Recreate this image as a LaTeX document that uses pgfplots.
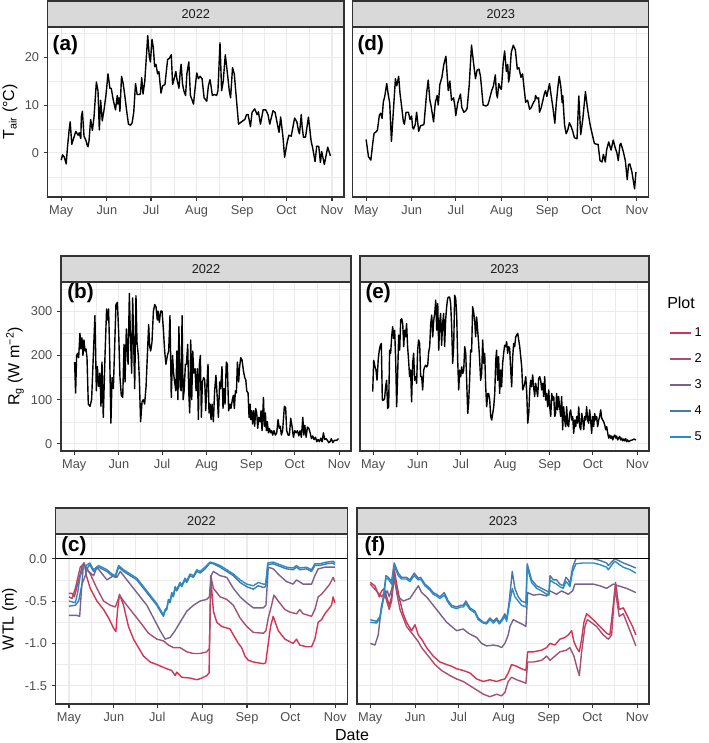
\documentclass[border=0pt]{standalone}
\usepackage{fontspec}
\setmainfont{Liberation Sans}
\usepackage{pgfplots}
\pgfplotsset{compat=1.18}
\definecolor{gridc}{HTML}{EBEBEB}
\definecolor{borderc}{HTML}{333333}
\definecolor{stripc}{HTML}{D9D9D9}
\definecolor{tickc}{HTML}{4D4D4D}
\definecolor{stript}{HTML}{1A1A1A}
\definecolor{plotone}{RGB}{214,50,82}
\definecolor{plottwo}{RGB}{168,78,112}
\definecolor{plotthree}{RGB}{118,98,140}
\definecolor{plotfour}{RGB}{70,120,170}
\definecolor{plotfive}{RGB}{40,140,200}
\newcommand{\tickfont}{\fontsize{9.6}{11}\selectfont}
\newcommand{\titlefont}{\fontsize{12}{14}\selectfont}
\newcommand{\tagfont}{\fontsize{15.5}{18}\selectfont\bfseries}
\pgfplotsset{
  panel/.style={
    scale only axis, anchor=south west,
    xmin=-9.15, xmax=192.15,
    xtick={0,31,61,92,123,153,184},
    xticklabels={May,Jun,Jul,Aug,Sep,Oct,Nov},
    minor xtick={15.5,46,76.5,107.5,138,168.5},
    tick pos=left, tick align=outside,
    major tick length=3pt, minor tick length=0pt,
    grid=both,
    major grid style={draw=gridc, line width=0.8pt},
    minor grid style={draw=gridc, line width=0.4pt},
    axis line style={draw=borderc, line width=0.8pt},
    major tick style={draw=borderc, line width=0.8pt},
    ticklabel style={font=\tickfont, text=tickc},
    every axis plot/.append style={line width=1.05pt, line join=round},
  },
}
\tikzset{tag/.style={anchor=north west, inner sep=0pt, font=\tagfont}}
\newcommand{\strip}[2]{%
  \draw[draw=borderc, fill=stripc, line width=0.8pt] (#1.north west) rectangle ([yshift=19.5pt]#1.north east);
  \node[font=\tickfont, text=stript] at ([yshift=9.75pt]#1.north) {#2};
}
\begin{document}
\begin{tikzpicture}
\path[use as bounding box] (0,0) rectangle (531.75pt,557.25pt);

% (a) Tair 2022
\begin{axis}[panel, name=a, at={(35.8pt,409.5pt)}, width=222.2pt, height=127.5pt,
  ymin=-9.2, ymax=26.3, ytick={0,10,20}, yticklabels={0,10,20}, minor ytick={-5,5,15,25},
  ylabel={T\textsubscript{air} (°C)}, ylabel style={at={(axis description cs:-0.127,0.5)}, anchor=center, font=\titlefont}]
\addplot[black] coordinates {
(0,-1.5) (0.9,-0.4) (2,-0.8) (3.4,-2.3) (4.3,1.3) (5.4,4.8) (6.1,6.5) (7.2,1.8) (9.9,4.5) (11.5,3.7)
(12.2,4.2) (13.3,3.0) (13.7,7.5) (14.4,8.7) (15.5,3.5) (16.7,2.7) (17.8,1.5) (18.2,1.3) (18.9,2.5) (20,7.0)
(21.2,4.7) (22.3,7.5) (23.9,14.8) (25,13) (25.9,4.8) (26.8,11) (27.9,6.7) (29.1,9) (30.4,12) (31.8,16.5)
(33.1,13.5) (34,13.5) (35.4,11) (36.9,9) (38.1,12) (38.5,10.2) (39.2,11.5) (39.9,8.7) (41,16) (42.1,14.5)
(43,12.5) (44.4,9) (45.7,6) (47.1,5.8) (48.2,6.3) (49.3,8.5) (50.5,14.5) (51.6,12.2) (52.9,12.2) (53.8,12.3)
(54.7,15.7) (55.6,12.3) (56.8,15) (58.8,24.5) (59.9,20) (60.6,19) (61.7,23.7) (62.6,22) (63.5,18) (64.4,18.5)
(65.5,16.5) (66.4,17) (67.8,12.5) (68.9,14) (70.5,14.3) (72.3,19.5) (73.6,19.8) (74.8,20.5) (75.7,14.3) (76.8,15.5)
(77.9,17) (78.6,15.5) (80,13.5) (80.9,17) (81.5,18.5) (82.4,14.5) (83.3,13) (84.5,12) (85.4,16.5) (86.7,19)
(87.8,12) (89,11) (89.9,10.2) (90.8,13) (92.1,16.7) (93.2,15.5) (94.4,16) (95.7,15.5) (97.1,11.5) (98.9,10.8)
(100,14) (101.1,15.3) (101.8,14) (102.7,12) (104.1,12.2) (105.6,12) (106.5,13) (107.9,23) (109,13) (110.1,15)
(111.5,20.5) (112.8,17) (114.2,13) (115.1,11.5) (116.4,17.8) (117.6,16.5) (120.5,6) (122.5,6.5) (124.8,7) (125.9,8)
(127,8) (128.6,5.5) (129.7,8.5) (131.5,9.2) (133.1,8) (134,8.6) (135.4,6) (137.2,9) (139,9) (140.5,8)
(141.7,6) (143.9,8.8) (145.3,8.5) (148,4.3) (149.1,7.5) (150.7,3.3) (151.8,-0.9) (153.4,2) (154.7,3.7) (156.3,3.5)
(158.6,7.3) (160.1,6.5) (161.3,4.5) (161.9,4) (163.1,8) (163.7,5.5) (164.6,3.3) (166,3.3) (168,7.5) (169.8,2.5)
(170.9,1) (172.5,-1.8) (173.6,1.4) (175,1.4) (176.1,-2) (177,0.3) (178.8,-2.4) (181.1,1.2) (182.9,-0.6)
};
\node[tag, xshift=3.5pt, yshift=-6pt] at (rel axis cs:0,1) {(a)};
\end{axis}

% (d) Tair 2023
\begin{axis}[panel, name=d, at={(264.5pt,409.5pt)}, width=222.2pt, height=127.5pt,
  ymin=-9.2, ymax=26.3, ytick={0,10,20}, yticklabels={}, minor ytick={-5,5,15,25}, ytick style={draw=none}]
\addplot[black] coordinates {
(0,2.8) (1.6,-0.8) (3.2,-1.5) (4.5,2) (5.4,4.1) (6.8,4.4) (7.7,4.8) (9,7.9) (9.9,8.3) (10.8,7.2)
(11.7,10.7) (12.6,11.7) (14,14.5) (15.1,12) (16,10.5) (17.2,2.4) (19.9,15.5) (20.8,14) (22.1,16) (23,12.5)
(24.2,9.5) (25.3,6.5) (26,6.0) (27.1,8.5) (28.7,8.5) (29.8,7) (30.9,7.7) (31.6,5.3) (32.3,5) (33.4,6)
(34.3,8.5) (35.7,4.5) (37,5.7) (38.4,5.8) (39.3,6) (41.1,12.5) (42.2,15.2) (43.3,11) (44,10) (44.9,8.3)
(45.8,6.5) (47,10.5) (48.3,12) (49,10) (50.1,14.3) (51.5,15.8) (52.8,18.5) (54.2,20.2) (55.1,16) (55.8,13)
(56.9,15) (58,11) (59.4,11.5) (60.3,9.8) (60.9,7.8) (62.3,10.5) (64.1,12.3) (65,9.5) (66.4,8.5) (67.7,8.8)
(68.6,9.3) (70,14) (71.6,22.5) (73.1,18.5) (74.3,15.5) (75.4,17.3) (76.7,17.5) (77.7,16) (79.5,10) (81.3,9.8)
(82.6,10) (83.5,10.8) (85.1,12.8) (86.5,14) (87.8,16.3) (88.5,12.5) (89.2,11.5) (90.1,14.5) (91.2,13.5) (91.9,13.3)
(93.2,19) (94.1,21.3) (95.3,17) (96.2,18.5) (96.8,14.8) (97.5,16) (98.6,21) (100,22.5) (101.4,21.5) (102.7,17.5)
(103.8,17.8) (105.2,15.8) (106.3,16.5) (107.4,13.3) (108.4,10.6) (109.7,11) (111.1,9.1) (112.2,9.5) (113.8,10.6) (114.7,11)
(115.1,12) (116.3,11.3) (117.2,11.5) (117.8,8.5) (119,9.5) (120.1,11) (121.2,12.5) (121.9,13) (122.8,11.8) (124.6,14.5)
(125.7,12) (126.9,9.5) (128.2,6.2) (129.1,10) (130.2,13.5) (131.2,16) (132.3,13.8) (133.2,10.5) (133.6,12) (134.8,5.9)
(135.9,4) (137,4.8) (138.1,6.3) (139.3,5.5) (140.4,4.5) (141.5,3.2) (142.7,3) (143.3,3.0) (144.5,11.9) (145.8,3.8)
(147.2,7) (149,12.8) (150.3,9.5) (152.1,6) (153.9,3.5) (155.1,2) (156.7,1.8) (157.6,1.8) (158.9,-1.6) (160.3,-1.9)
(161.2,-0.3) (162.5,-1.9) (163.4,0.6) (164.8,2.3) (166.4,0.6) (167.9,2.7) (169.1,1.2) (170.4,0) (171.3,-1.6) (172.5,1.8)
(173.1,2) (174.7,0.3) (176.1,-1.6) (177.4,-5.6) (178.3,-2.4) (179.2,-2.3) (180.6,-4) (182.4,-7.5) (183.3,-4)
};
\node[tag, xshift=3.5pt, yshift=-6pt] at (rel axis cs:0,1) {(d)};
\end{axis}

% (b) Rg 2022
\begin{axis}[panel, name=b, at={(45.75pt,219pt)}, width=217.5pt, height=126.75pt,
  ymin=-16, ymax=366, ytick={0,100,200,300}, yticklabels={0,100,200,300}, minor ytick={50,150,250,350},
  ylabel={R\textsubscript{g} (W m\textsuperscript{−2})}, ylabel style={at={(axis description cs:-0.1586,0.5)}, anchor=center, font=\titlefont}]
\addplot[black] coordinates {
(0.3,185) (1.0,115) (1.7,200) (2.4,205) (3.1,195) (4.0,250) (4.7,215) (5.4,240) (6.1,200) (6.8,235)
(7.5,210) (8.2,215) (8.9,195) (9.8,90) (11.0,85) (12.1,100) (13.3,200) (14.4,290) (15.4,120) (16.1,175)
(17.0,130) (17.9,160) (18.6,85) (19.3,185) (20.2,60) (21.4,200) (22.5,305) (23.3,280) (23.9,305) (24.6,210)
(25.5,47) (26.3,150) (27.2,125) (28.1,220) (29.0,315) (30.0,320) (30.9,250) (31.8,150) (32.7,110) (33.7,105)
(34.6,225) (35.3,140) (36.2,260) (37.4,180) (38.3,340) (39.0,250) (39.9,160) (40.6,330) (41.3,230) (42.0,125)
(42.9,335) (43.6,230) (44.5,200) (45.2,150) (46.1,50) (47.1,95) (48.0,100) (48.9,90) (49.9,130) (50.8,200)
(51.7,270) (52.4,220) (53.1,210) (54.0,230) (55.0,300) (55.9,315) (56.8,310) (57.7,280) (58.2,300) (59.1,275)
(60.0,300) (61.0,300) (61.9,260) (62.8,210) (63.7,180) (64.7,200) (65.6,210) (66.5,290) (67.4,105) (68.3,200)
(69.0,160) (69.7,140) (70.6,120) (71.3,210) (72.0,100) (72.7,265) (73.5,130) (74.2,120) (74.9,290) (75.6,100)
(76.3,120) (77.2,180) (77.9,180) (78.8,225) (79.5,120) (80.2,70) (80.9,235) (81.6,100) (82.3,210) (83.0,160)
(83.9,170) (84.6,120) (85.5,170) (86.2,55) (86.9,180) (87.6,200) (88.3,60) (89.0,140) (89.9,150) (90.6,145)
(91.3,75) (92.0,125) (92.9,180) (93.6,70) (94.3,90) (95.0,55) (95.7,90) (96.6,50) (97.5,120) (98.4,155)
(99.4,100) (100.1,60) (101.0,140) (101.7,125) (102.6,175) (103.3,80) (104.0,125) (104.7,90) (105.6,185) (106.3,180)
(107.2,75) (108.2,90) (108.8,80) (109.8,100) (110.5,110) (111.2,80) (111.9,120) (112.6,115) (113.3,185) (114.2,140)
(114.7,170) (115.6,195) (116.5,190) (117.5,165) (118.4,150) (119.1,145) (119.8,120) (120.7,115) (121.4,60) (122.1,90)
(122.5,55) (123.2,75) (123.9,45) (124.6,75) (125.3,40) (126.0,80) (126.7,70) (127.4,35) (128.1,60) (129.0,50)
(129.7,75) (130.4,30) (131.4,105) (132.0,40) (132.7,70) (133.4,30) (134.1,50) (134.8,25) (135.5,35) (136.4,25)
(137.1,30) (137.8,20) (138.7,30) (139.6,20) (140.6,25) (141.5,55) (142.4,35) (143.1,40) (143.8,20) (144.7,30)
(145.9,85) (146.8,82) (147.5,30) (148.5,20) (149.4,20) (150.3,58) (151.2,40) (152.2,15) (153.1,30) (154.0,25)
(155.0,30) (155.9,18) (156.8,30) (157.7,15) (158.7,60) (159.4,20) (160.1,42) (161.0,15) (161.9,38) (162.9,35)
(163.8,25) (164.7,12) (165.6,18) (166.5,10) (167.5,15) (168.4,5) (169.3,10) (170.2,5) (171.2,13) (172.1,5)
(173.0,25) (173.9,10) (174.8,12) (175.8,8) (176.7,3) (177.6,5) (178.5,12) (179.5,3) (180.6,8) (182.2,8) (183.4,12)
};
\node[tag, xshift=4.5pt, yshift=-1pt] at (rel axis cs:0,1) {(b)};
\end{axis}

% (e) Rg 2023
\begin{axis}[panel, name=e, at={(270pt,219pt)}, width=216.75pt, height=126.75pt,
  ymin=-16, ymax=366, ytick={0,100,200,300}, yticklabels={}, minor ytick={50,150,250,350}, ytick style={draw=none}]
\addplot[black] coordinates {
(-0.3,118) (0.4,189) (1.3,174) (2.0,167) (2.7,144) (3.6,193) (4.3,212) (5.0,223) (5.7,227) (6.4,99)
(7.3,99) (8.0,103) (8.7,129) (9.4,144) (10.1,80) (10.8,84) (11.5,212) (12.2,205) (12.9,242) (13.6,265)
(14.3,238) (15.0,257) (15.7,189) (16.4,84) (17.1,159) (17.8,246) (18.5,212) (19.2,280) (19.9,283) (20.6,272)
(21.3,220) (21.9,257) (22.6,242) (23.3,272) (24.0,220) (24.7,189) (25.4,152) (26.1,167) (26.8,95) (27.5,182)
(28.2,205) (28.9,144) (29.6,152) (30.3,137) (31.0,212) (31.7,235) (32.4,227) (33.1,152) (33.8,152) (34.5,122)
(35.2,167) (35.9,174) (36.6,178) (37.3,174) (38.0,178) (38.7,208) (39.4,220) (40.1,272) (40.8,291) (41.5,242)
(42.2,280) (42.9,295) (43.6,325) (44.3,257) (45.0,317) (45.7,212) (46.3,272) (47.0,295) (47.7,223) (48.4,272)
(49.1,295) (49.8,220) (50.5,280) (51.2,310) (51.9,329) (52.6,332) (53.3,332) (54.0,317) (54.7,265) (55.4,182)
(56.1,220) (56.8,336) (57.5,329) (58.2,291) (58.9,189) (59.6,122) (60.3,167) (61.0,152) (61.7,174) (62.4,159)
(63.1,167) (63.8,220) (64.5,205) (65.2,137) (65.9,69) (66.5,92) (67.2,144) (67.9,212) (68.6,208) (69.3,310)
(70.0,298) (70.7,280) (71.4,242) (72.1,287) (72.8,257) (73.5,227) (74.2,189) (74.9,144) (75.6,159) (76.3,235)
(77.0,182) (77.7,205) (78.4,129) (79.1,84) (79.8,114) (80.5,114) (81.2,99) (81.9,62) (82.6,54) (83.3,69)
(84.0,84) (84.7,114) (85.4,189) (86.0,212) (86.7,144) (87.4,197) (88.1,114) (88.8,167) (89.5,129) (90.2,182)
(90.9,205) (91.6,223) (92.3,220) (93.0,231) (93.7,205) (94.4,220) (95.1,216) (95.8,167) (96.5,129) (97.2,197)
(97.9,227) (98.6,220) (99.3,242) (100.0,246) (100.7,250) (101.4,235) (102.1,220) (102.8,197) (103.5,174) (104.2,122)
(104.9,129) (105.6,137) (106.3,152) (107.0,114) (107.7,47) (108.4,69) (109.1,122) (109.7,144) (110.4,129) (111.1,156)
(111.8,129) (112.5,107) (113.2,137) (113.9,122) (114.6,107) (115.3,148) (116.0,152) (116.7,144) (117.4,122) (118.1,137)
(118.8,107) (119.5,152) (120.2,99) (120.9,114) (121.6,84) (122.3,122) (123.0,84) (123.7,62) (124.4,114) (125.1,99)
(125.8,107) (126.5,62) (127.1,69) (127.8,114) (128.5,77) (129.2,107) (129.9,84) (130.6,62) (131.3,107) (132.0,32)
(132.7,84) (133.4,54) (134.1,39) (134.8,84) (135.5,43) (136.2,39) (136.9,69) (137.6,77) (138.3,54) (139.0,62)
(139.7,24) (140.4,54) (141.1,39) (141.8,62) (142.5,47) (143.2,84) (143.9,39) (144.6,32) (145.3,69) (146.0,54)
(146.7,32) (147.4,62) (148.0,54) (148.7,84) (149.4,54) (150.1,47) (150.8,77) (151.5,54) (152.2,24) (152.9,62)
(153.6,39) (154.3,69) (155.0,54) (155.7,62) (156.4,39) (157.1,54) (157.8,62) (158.5,77) (159.2,58) (159.9,54)
(160.6,50) (161.3,43) (162.0,32) (162.7,39) (163.4,24) (164.1,13) (164.8,20) (165.5,13) (166.2,18) (166.9,9)
(167.6,17) (168.3,20) (169.0,13) (169.6,18) (170.3,9) (171.0,13) (171.7,17) (172.4,9) (173.1,13) (173.8,7)
(174.5,11) (175.2,7) (175.9,12) (176.6,5) (177.3,9) (178.0,5) (179.4,8) (180.6,9) (181.7,11) (183.1,9)
};
\node[tag, xshift=4pt, yshift=-1pt] at (rel axis cs:0,1) {(e)};
\end{axis}

% (c) WTL 2022
\begin{axis}[panel, name=c, at={(41.8pt,29.25pt)}, width=218.5pt, height=127.5pt,
  ymin=-1.716, ymax=0.292, ytick={-1.5,-1,-0.5,0}, yticklabels={-1.5,-1.0,-0.5,0.0}, minor ytick={-1.25,-0.75,-0.25,0.25},
  ylabel={WTL (m)}, ylabel style={at={(axis description cs:-0.1586,0.5)}, anchor=center, font=\titlefont}]
\addplot[plotone] coordinates {
(0,-0.41) (2.1,-0.41) (3.7,-0.45) (6.0,-0.3) (9.0,-0.1) (10.6,-0.05) (12.0,-0.2) (14.7,-0.35) (19.3,-0.5) (23.9,-0.6)
(27.4,-0.7) (30.8,-0.82) (32.4,-0.86) (33.6,-0.6) (34.9,-0.42) (37.7,-0.55) (41.1,-0.8) (44.6,-0.95) (48.0,-1.05) (51.5,-1.15)
(56.1,-1.22) (60.7,-1.25) (67.6,-1.3) (71.0,-1.32) (73.3,-1.38) (74.5,-1.34) (77.9,-1.4) (83.7,-1.41) (88.3,-1.43) (91.7,-1.41)
(95.2,-1.38) (96.8,-1.35) (97.9,-0.2) (99.8,-0.62) (102.1,-0.75) (105.5,-0.8) (111.3,-0.83) (113.6,-0.9) (117.0,-1.0) (119.3,-1.05)
(121.6,-1.15) (123.9,-1.2) (127.4,-1.22) (134.3,-1.24) (135.9,-1.23) (137.7,-1.0) (139.3,-0.8) (141.1,-0.68) (144.6,-0.85) (149.2,-0.95)
(152.6,-0.98) (154.9,-1.0) (157.2,-0.95) (159.5,-1.02) (164.1,-1.04) (167.6,-1.04) (169.9,-0.95) (172.2,-0.75) (174.5,-0.72) (176.8,-0.65)
(179.1,-0.6) (181.4,-0.55) (182.5,-0.45) (183.7,-0.52)
};
\addplot[plottwo] coordinates {
(0,-0.45) (2.1,-0.47) (4.4,-0.35) (7.8,-0.1) (10.1,-0.06) (12.4,-0.12) (14.7,-0.18) (19.3,-0.35) (23.9,-0.5) (28.5,-0.55)
(32.0,-0.57) (33.6,-0.5) (34.9,-0.43) (37.7,-0.5) (42.3,-0.6) (49.2,-0.75) (54.9,-0.88) (60.7,-0.95) (65.3,-0.97) (68.7,-1.02)
(72.2,-1.05) (76.8,-1.05) (81.4,-1.1) (86.0,-1.12) (90.6,-1.12) (95.2,-1.1) (97.0,-1.06) (98.2,-0.22) (99.8,-0.35) (104.4,-0.45)
(109.0,-0.48) (113.6,-0.55) (118.2,-0.7) (122.8,-0.8) (127.4,-0.87) (134.3,-0.88) (136.1,-0.85) (137.7,-0.7) (140.0,-0.55) (141.6,-0.43)
(144.6,-0.5) (149.2,-0.6) (152.6,-0.63) (157.2,-0.65) (159.5,-0.6) (161.8,-0.65) (167.6,-0.68) (169.9,-0.6) (172.2,-0.45) (174.5,-0.42)
(177.9,-0.35) (180.2,-0.3) (182.5,-0.22) (183.7,-0.27)
};
\addplot[plotthree] coordinates {
(0,-0.67) (5.5,-0.67) (7.4,-0.68) (8.5,-0.4) (10.1,-0.05) (13.6,-0.15) (17.0,-0.2) (19.3,-0.1) (21.6,-0.15) (26.2,-0.25)
(30.8,-0.2) (33.1,-0.22) (35.4,-0.15) (40.0,-0.25) (44.6,-0.35) (49.2,-0.45) (53.8,-0.55) (58.4,-0.7) (63.0,-0.85) (66.4,-0.95)
(69.9,-0.93) (73.3,-0.85) (76.8,-0.75) (81.4,-0.62) (86.0,-0.55) (90.6,-0.5) (95.2,-0.48) (97.0,-0.45) (98.2,-0.2) (99.8,-0.15)
(104.4,-0.2) (109.0,-0.22) (113.6,-0.35) (118.2,-0.45) (122.8,-0.52) (127.4,-0.58) (134.3,-0.58) (136.1,-0.55) (137.7,-0.1) (141.1,-0.12)
(145.7,-0.2) (150.3,-0.27) (154.9,-0.3) (157.2,-0.25) (161.8,-0.3) (167.6,-0.3) (169.9,-0.2) (172.2,-0.12) (176.8,-0.1) (183.7,-0.1)
};
\addplot[plotfour] coordinates {
(0,-0.56) (4.4,-0.55) (6.7,-0.5) (9.0,-0.3) (11.3,-0.2) (13.1,-0.1) (14.3,-0.07) (17.0,-0.15) (20.5,-0.1) (23.9,-0.13)
(26.2,-0.15) (29.7,-0.2) (32.0,-0.22) (34.3,-0.1) (37.7,-0.15) (42.3,-0.2) (46.9,-0.25) (51.5,-0.35) (56.1,-0.45) (60.7,-0.55)
(64.1,-0.65) (65.3,-0.68) (66.4,-0.62) (67.6,-0.6) (68.7,-0.5) (69.9,-0.52) (71.0,-0.42) (72.2,-0.45) (73.3,-0.35) (74.5,-0.38)
(76.8,-0.3) (77.9,-0.33) (80.2,-0.25) (81.4,-0.28) (83.7,-0.2) (86.0,-0.22) (88.3,-0.15) (90.6,-0.17) (94.0,-0.12) (97.5,-0.05)
(99.8,-0.06) (104.4,-0.1) (109.0,-0.15) (113.6,-0.2) (118.2,-0.28) (122.8,-0.33) (127.4,-0.36) (130.8,-0.32) (134.3,-0.34) (135.9,-0.33)
(137.4,-0.07) (141.1,-0.06) (145.7,-0.09) (150.3,-0.12) (154.9,-0.13) (157.2,-0.1) (159.5,-0.13) (164.1,-0.12) (167.6,-0.15) (169.9,-0.08)
(173.3,-0.08) (177.9,-0.06) (182.5,-0.05) (183.7,-0.07)
};
\addplot[plotfive] coordinates {
(0,-0.5) (4.4,-0.52) (6.0,-0.4) (7.8,-0.2) (10.1,-0.1) (12.0,-0.08) (14.3,-0.05) (17.0,-0.13) (20.5,-0.08) (23.9,-0.11)
(26.2,-0.13) (29.7,-0.18) (32.0,-0.2) (34.3,-0.08) (37.7,-0.13) (42.3,-0.18) (46.9,-0.23) (51.5,-0.33) (56.1,-0.43) (60.7,-0.53)
(64.1,-0.63) (65.3,-0.66) (66.4,-0.6) (67.6,-0.58) (68.7,-0.48) (69.9,-0.5) (71.0,-0.4) (72.2,-0.43) (73.3,-0.33) (74.5,-0.36)
(76.8,-0.28) (77.9,-0.31) (80.2,-0.23) (81.4,-0.26) (83.7,-0.18) (86.0,-0.2) (88.3,-0.13) (90.6,-0.15) (94.0,-0.1) (97.5,-0.04)
(99.8,-0.05) (104.4,-0.08) (109.0,-0.13) (113.6,-0.18) (118.2,-0.25) (122.8,-0.3) (127.4,-0.32) (130.8,-0.28) (134.3,-0.3) (135.9,-0.3)
(137.4,-0.05) (141.1,-0.04) (145.7,-0.07) (150.3,-0.1) (154.9,-0.11) (157.2,-0.08) (159.5,-0.11) (164.1,-0.1) (167.6,-0.13) (169.9,-0.06)
(173.3,-0.06) (177.9,-0.04) (182.5,-0.03) (183.7,-0.05)
};
\addplot[black, line width=0.8pt] coordinates {(-10,0) (195,0)};
\node[tag, xshift=4pt, yshift=-1.5pt] at (rel axis cs:0,1) {(c)};
\end{axis}

% (f) WTL 2023
\begin{axis}[panel, name=f, at={(267.75pt,29.25pt)}, width=219pt, height=127.5pt,
  ymin=-1.716, ymax=0.292, ytick={-1.5,-1,-0.5,0}, yticklabels={}, minor ytick={-1.25,-0.75,-0.25,0.25}, ytick style={draw=none},
  legend style={at={(axis description cs:1.0685,2.23)}, anchor=north west, draw=none, fill=none, font=\tickfont, row sep=7.3pt, inner sep=0pt},
  legend image code/.code={\draw[#1, line width=1.2pt] (0pt,0pt) -- (15.75pt,0pt);},
  legend cell align=left, legend entries={1,2,3,4,5}]
\addlegendimage{plotone}
\addlegendimage{plottwo}
\addlegendimage{plotthree}
\addlegendimage{plotfour}
\addlegendimage{plotfive}
\addplot[plotone, forget plot] coordinates {
(0,-0.28) (3.2,-0.32) (6.2,-0.45) (7.8,-0.38) (9.7,-0.35) (11.3,-0.45) (13.1,-0.55) (14.7,-0.45) (16.5,-0.12) (18.2,-0.3)
(20.5,-0.5) (22.7,-0.65) (25.0,-0.75) (28.5,-0.85) (30.8,-0.78) (33.1,-0.9) (35.4,-0.95) (38.8,-1.05) (43.4,-1.15) (48.0,-1.22)
(52.6,-1.25) (56.1,-1.27) (59.5,-1.3) (64.1,-1.32) (68.7,-1.35) (73.3,-1.42) (77.9,-1.45) (82.5,-1.43) (87.1,-1.45) (90.5,-1.43)
(92.8,-1.42) (95.1,-1.35) (97.4,-1.25) (100.9,-1.27) (104.3,-1.3) (107.3,-1.32) (108.5,-1.1) (112.4,-1.1) (118.1,-1.08) (121.6,-1.05)
(123.9,-1.0) (127.3,-1.02) (130.7,-0.95) (134.2,-0.93) (136.5,-0.9) (138.8,-0.85) (140.4,-0.98) (142.2,-1.05) (144.1,-1.1) (145.7,-0.95)
(147.3,-0.75) (149.1,-0.65) (153.7,-0.72) (158.3,-0.8) (162.9,-0.88) (165.2,-0.9) (167.5,-0.55) (169.1,-0.28) (171.6,-0.6) (174.4,-0.58)
(177.9,-0.7) (180.8,-0.8) (183.1,-0.9)
};
\addplot[plottwo, forget plot] coordinates {
(0,-0.3) (3.2,-0.36) (6.2,-0.42) (7.8,-0.45) (9.7,-0.4) (11.3,-0.5) (13.1,-0.6) (14.7,-0.5) (16.5,-0.22) (18.2,-0.4)
(20.5,-0.6) (25.0,-0.8) (29.6,-0.9) (33.1,-0.98) (35.4,-1.05) (40.0,-1.15) (44.6,-1.25) (49.2,-1.32) (54.9,-1.38) (59.5,-1.42)
(64.1,-1.45) (68.7,-1.5) (73.3,-1.55) (77.9,-1.6) (82.5,-1.63) (87.1,-1.6) (90.5,-1.62) (92.8,-1.58) (95.1,-1.45) (97.4,-1.4)
(100.9,-1.43) (104.3,-1.45) (107.3,-1.47) (108.5,-1.22) (112.4,-1.22) (118.1,-1.2) (121.6,-1.15) (123.9,-1.2) (127.3,-1.15) (130.7,-1.1)
(135.3,-1.08) (137.6,-1.05) (140.4,-1.15) (142.7,-1.3) (144.1,-1.38) (145.7,-1.1) (148.0,-0.8) (149.6,-0.72) (151.4,-0.74) (156.0,-0.8)
(160.6,-0.9) (164.1,-0.95) (166.4,-0.9) (168.7,-0.35) (171.6,-0.68) (174.4,-0.65) (177.9,-0.8) (181.3,-0.95) (183.1,-1.03)
};
\addplot[plotthree, forget plot] coordinates {
(0,-1.0) (3.2,-1.02) (5.5,-0.9) (7.8,-0.55) (10.1,-0.42) (11.7,-0.38) (13.1,-0.45) (14.9,-0.35) (16.5,-0.2) (19.3,-0.45)
(22.7,-0.5) (27.3,-0.47) (30.8,-0.38) (33.1,-0.32) (35.4,-0.4) (38.8,-0.45) (43.4,-0.55) (48.0,-0.65) (52.6,-0.75) (56.1,-0.8)
(59.5,-0.85) (64.1,-0.83) (67.6,-0.88) (73.3,-0.93) (76.7,-1.0) (80.2,-1.03) (84.8,-1.02) (88.2,-1.03) (90.5,-1.05) (92.8,-1.0)
(95.1,-0.9) (96.3,-0.8) (98.6,-0.72) (102.0,-0.75) (105.5,-0.78) (107.3,-0.8) (108.5,-0.4) (112.4,-0.43) (116.9,-0.42) (121.6,-0.44)
(123.9,-0.38) (128.4,-0.42) (131.9,-0.38) (136.5,-0.42) (139.5,-0.38) (141.1,-0.3) (146.8,-0.3) (153.7,-0.3) (158.3,-0.32) (162.9,-0.35)
(167.5,-0.3) (171.0,-0.32) (176.7,-0.35) (183.1,-0.4)
};
\addplot[plotfour, forget plot] coordinates {
(0,-0.72) (4.4,-0.74) (6.7,-0.68) (9.0,-0.45) (10.8,-0.2) (12.4,-0.22) (14.7,-0.27) (16.5,-0.05) (19.3,-0.17) (21.6,-0.22)
(25.0,-0.22) (27.3,-0.25) (30.3,-0.17) (33.1,-0.23) (34.7,-0.22) (37.7,-0.3) (41.1,-0.35) (43.4,-0.4) (45.7,-0.42) (48.0,-0.45)
(51.0,-0.4) (53.8,-0.5) (56.1,-0.55) (59.5,-0.57) (62.3,-0.55) (64.1,-0.55) (65.9,-0.5) (68.7,-0.58) (72.2,-0.62) (74.4,-0.7)
(77.9,-0.75) (80.2,-0.75) (82.5,-0.7) (84.8,-0.74) (87.1,-0.7) (88.9,-0.75) (90.5,-0.72) (92.8,-0.65) (94.0,-0.72) (95.8,-0.5)
(97.9,-0.15) (99.7,-0.35) (102.0,-0.45) (104.3,-0.5) (107.3,-0.52) (108.2,-0.06) (111.2,-0.25) (114.7,-0.32) (118.1,-0.35) (121.6,-0.38)
(123.2,-0.4) (123.9,-0.2) (126.2,-0.25) (128.4,-0.25) (130.7,-0.3) (133.0,-0.32) (134.9,-0.22) (136.5,-0.25) (137.6,-0.3) (139.5,-0.1)
(141.8,0.0) (146.8,0.0) (153.7,0.0) (158.3,-0.02) (162.9,-0.05) (164.1,-0.08) (167.5,-0.02) (168.7,0.0) (171.0,-0.02) (174.4,-0.05)
(179.0,-0.08) (183.1,-0.11)
};
\addplot[plotfive, forget plot] coordinates {
(0,-0.75) (4.4,-0.76) (6.7,-0.7) (9.0,-0.48) (10.8,-0.23) (12.4,-0.24) (14.7,-0.3) (16.5,-0.08) (19.3,-0.2) (21.6,-0.24)
(25.0,-0.24) (27.3,-0.27) (30.3,-0.2) (33.1,-0.25) (34.7,-0.24) (37.7,-0.32) (41.1,-0.37) (43.4,-0.42) (45.7,-0.44) (48.0,-0.47)
(51.0,-0.43) (53.8,-0.52) (56.1,-0.57) (59.5,-0.59) (62.3,-0.57) (64.1,-0.57) (65.9,-0.53) (68.7,-0.6) (72.2,-0.64) (74.4,-0.72)
(77.9,-0.76) (80.2,-0.77) (82.5,-0.72) (84.8,-0.76) (87.1,-0.72) (88.9,-0.77) (90.5,-0.74) (92.8,-0.68) (94.0,-0.74) (95.8,-0.55)
(97.9,-0.35) (99.7,-0.45) (102.0,-0.5) (104.3,-0.55) (107.3,-0.57) (108.2,-0.1) (111.2,-0.28) (114.7,-0.35) (118.1,-0.38) (121.6,-0.42)
(123.2,-0.43) (123.9,-0.25) (126.2,-0.28) (128.4,-0.3) (130.7,-0.33) (133.0,-0.35) (134.9,-0.27) (136.5,-0.3) (137.6,-0.33) (139.5,-0.15)
(141.8,-0.06) (146.8,-0.05) (153.7,-0.05) (158.3,-0.07) (162.9,-0.1) (164.1,-0.13) (167.5,-0.05) (168.7,-0.03) (171.0,-0.06) (174.4,-0.1)
(179.0,-0.13) (183.1,-0.17)
};
\addplot[black, line width=0.8pt, forget plot] coordinates {(-10,0) (195,0)};
\node[tag, xshift=5.5pt, yshift=-1.5pt] at (rel axis cs:0,1) {(f)};
\end{axis}

\strip{a}{2022}
\strip{d}{2023}
\strip{b}{2022}
\strip{e}{2023}
\strip{c}{2022}
\strip{f}{2023}

\node[anchor=west, font=\titlefont, inner sep=0pt] at (500.25pt,330pt) {Plot};
\node[font=\titlefont, inner sep=0pt] at (264pt,6pt) {Date};
\end{tikzpicture}
\end{document}
